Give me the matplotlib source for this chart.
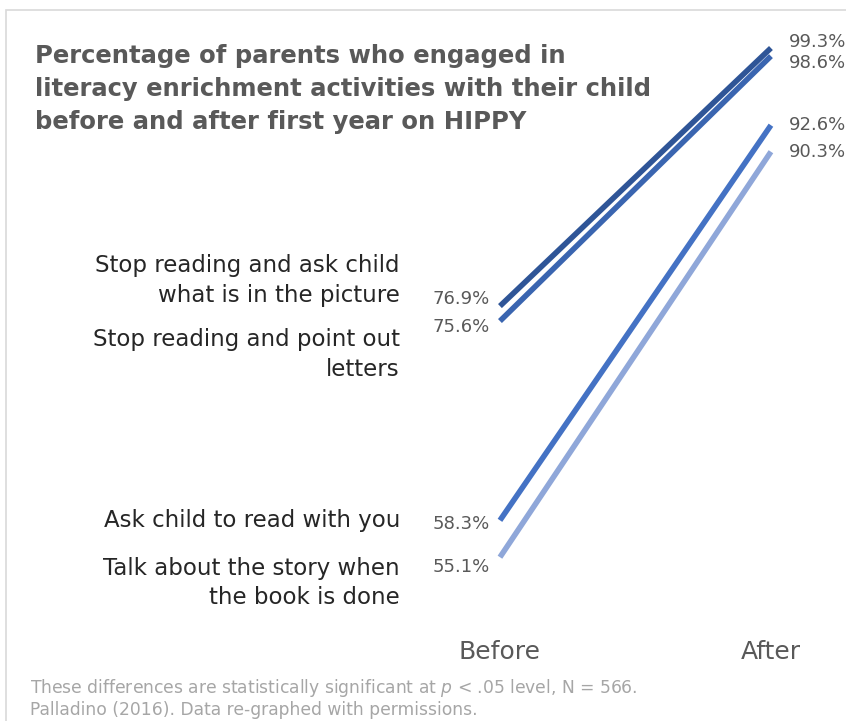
import matplotlib.pyplot as plt
import matplotlib.transforms as mtransforms
from matplotlib.patches import Rectangle

plt.rcParams["font.family"] = ["DejaVu Sans"]

# datos
periods = ["Before", "After"]
activities = [
    "Stop reading and ask child\nwhat is in the picture",
    "Stop reading and point out\nletters",
    "Ask child to read with you",
    "Talk about the story when\nthe book is done",
]
before_vals = [76.9, 75.6, 58.3, 55.1]
after_vals = [99.3, 98.6, 92.6, 90.3]

colors = ["#2F5597", "#3A65B0", "#4472C4", "#8FA7D9"]
# desplazamiento vertical (pt) de las etiquetas para que no se encimen
before_dy = [5, -4, -3, -7]
after_dy = [4, -5, 0, 0]
label_dy = [18.4, -24, 0, -18.4]

fig = plt.figure(figsize=(8.46, 7.21), dpi=100)
ax = fig.add_axes([0, 0, 1, 1])
ax.set_xlim(-1.845, 1.277)
ax.set_ylim(40.88, 103.47)
ax.axis("off")

# borde del area del grafico
fig.patches.append(Rectangle((6 / 846, -0.1), 1.1, 1 - 10 / 721 + 0.1,
                             transform=fig.transFigure, fill=False,
                             edgecolor="#D9D9D9", linewidth=1.2))

xs = list(range(len(periods)))
for i in range(len(activities)):
    ax.plot(xs, [before_vals[i], after_vals[i]], color=colors[i], lw=4.0,
            solid_capstyle="butt")
    ax.annotate(f"{before_vals[i]:.1f}%", (xs[0], before_vals[i]),
                xytext=(-7, before_dy[i]), textcoords="offset points",
                ha="right", va="center", fontsize=13, color="#595959")
    ax.annotate(f"{after_vals[i]:.1f}%", (xs[1], after_vals[i]),
                xytext=(13, after_dy[i]), textcoords="offset points",
                ha="left", va="center", fontsize=13, color="#595959")
    ax.annotate(activities[i], (xs[0], before_vals[i]),
                xytext=(-72, label_dy[i]), textcoords="offset points",
                ha="right", va="center", fontsize=16.5, color="#262626",
                linespacing=1.35)

# etiquetas de categoria
trans = mtransforms.blended_transform_factory(ax.transData, fig.transFigure)
for x, p in zip(xs, periods):
    ax.text(x, 1 - 652 / 721, p, transform=trans, ha="center", va="center",
            fontsize=18, color="#595959")

fig.text(35 / 846, 1 - 89 / 721,
         "Percentage of parents who engaged in\n"
         "literacy enrichment activities with their child\n"
         "before and after first year on HIPPY",
         ha="left", va="center", fontsize=17.5, fontweight="bold",
         color="#595959", linespacing=1.45)

fig.text(30 / 846, 1 - 688 / 721,
         "These differences are statistically significant at $\\it{p}$ < .05 level, N = 566.",
         ha="left", va="center", fontsize=12.3, color="#A6A6A6")
fig.text(30 / 846, 1 - 710 / 721,
         "Palladino (2016). Data re-graphed with permissions.",
         ha="left", va="center", fontsize=12.3, color="#A6A6A6")

fig.savefig("out.png", dpi=100)
